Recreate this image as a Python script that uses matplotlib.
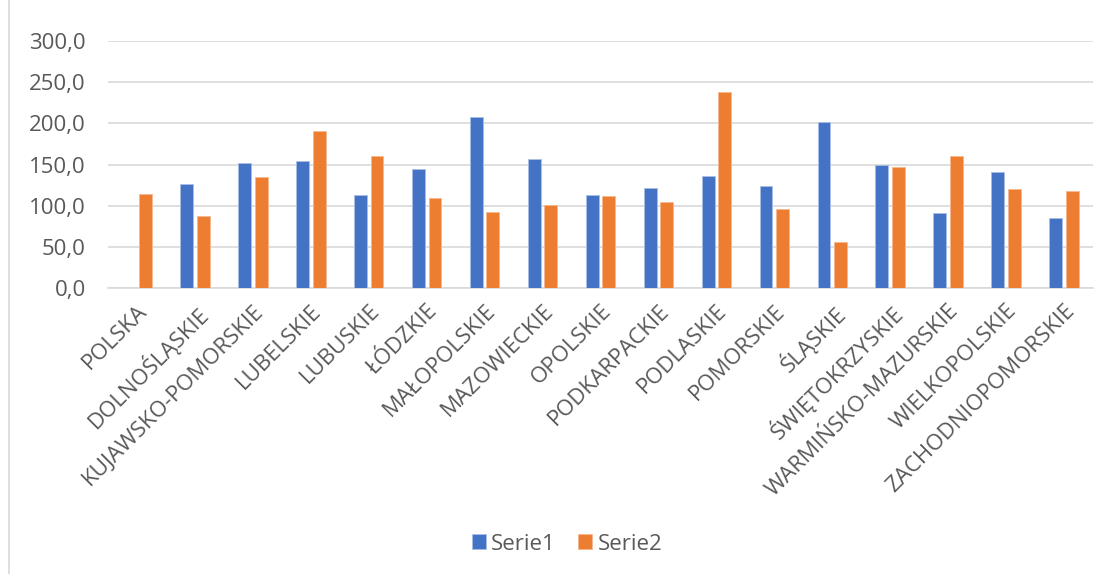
import matplotlib
matplotlib.use("Agg")
import matplotlib.pyplot as plt
import numpy as np
from matplotlib.lines import Line2D

categories = ["POLSKA", "DOLNOŚLĄSKIE", "KUJAWSKO-POMORSKIE", "LUBELSKIE", "LUBUSKIE",
              "ŁÓDZKIE", "MAŁOPOLSKIE", "MAZOWIECKIE", "OPOLSKIE", "PODKARPACKIE",
              "PODLASKIE", "POMORSKIE", "ŚLĄSKIE", "ŚWIĘTOKRZYSKIE", "WARMIŃSKO-MAZURSKIE",
              "WIELKOPOLSKIE", "ZACHODNIOPOMORSKIE"]
serie1 = [0, 126.9, 151.8, 154.2, 112.8, 144.6, 207.4, 157.1, 112.4, 121.6,
          135.7, 124.0, 201.8, 149.0, 91.0, 141.4, 85.4]
serie2 = [113.6, 87.0, 135.3, 190.1, 160.7, 109.9, 91.8, 100.7, 111.2, 103.9,
          238.4, 95.9, 56.4, 146.6, 160.3, 120.4, 118.4]
yticks = [0, 50, 100, 150, 200, 250, 300]

plt.rcParams['font.family'] = ['Open Sans', 'DejaVu Sans']

W, H = 1109, 574
fig = plt.figure(figsize=(W / 100, H / 100), dpi=100)
ax = fig.add_axes([108 / W, 1 - 288 / H, (1093 - 108) / W, (288 - 41) / H])

x = np.arange(len(categories))
bw = 0.223
off = 0.143
ax.bar(x - off, serie1, width=bw, color="#4472C4", edgecolor="#a9bfe6", linewidth=0.6, label="Serie1", zorder=3)
ax.bar(x + off, serie2, width=bw, color="#ED7D31", edgecolor="#f5b88f", linewidth=0.6, label="Serie2", zorder=3)

ax.set_xlim(-0.5, len(categories) - 0.5)
ax.set_ylim(0, 300)
ax.set_yticks(yticks)
ax.set_yticklabels([f"{v:.1f}".replace(".", ",") for v in yticks], fontsize=16, color="#595959")
ax.yaxis.grid(True, color="#d9d9d9", linewidth=1.2, zorder=0)
ax.set_xticks(x)
ax.set_xticklabels(categories, rotation=45, ha="right", rotation_mode="anchor",
                   fontsize=16, color="#595959")
ax.tick_params(axis="both", length=0)
ax.tick_params(axis="y", pad=16)
ax.tick_params(axis="x", pad=9)
for s in ["top", "right", "left"]:
    ax.spines[s].set_visible(False)
ax.spines["bottom"].set_color("#d9d9d9")
ax.spines["bottom"].set_linewidth(1.2)

fig.legend(loc="center", bbox_to_anchor=(567 / W, 1 - 544 / H), ncol=2, frameon=False,
           fontsize=16, labelcolor="#595959", handlelength=0.63, handleheight=0.63,
           handletextpad=0.25, columnspacing=1.0)

fig.add_artist(Line2D([8.5 / W, 8.5 / W], [0, 1], color="#d9d9d9", linewidth=1.2))

fig.savefig("out.png", dpi=100)
